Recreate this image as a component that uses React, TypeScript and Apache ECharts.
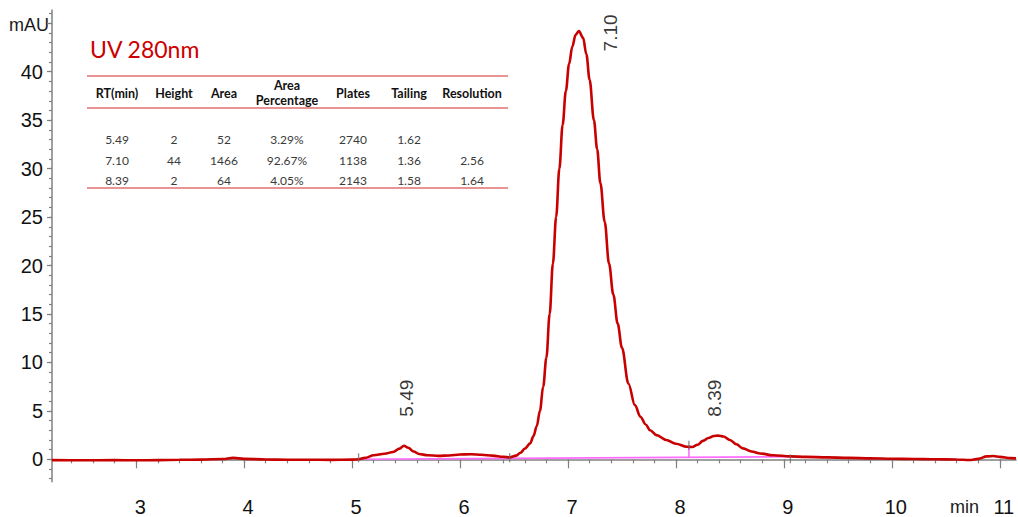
import React, { useEffect, useRef } from "react";
import * as echarts from "echarts";

// ---- Data ----
const retentionTime = [
  2.22, 2.5, 2.8, 3.0, 3.2, 3.4, 3.6, 3.8, 3.9, 4.0, 4.2, 4.4, 4.6, 4.8, 5.0, 5.06, 5.12, 5.2, 5.3, 5.38,
  5.44, 5.48, 5.52, 5.57, 5.62, 5.7, 5.8, 5.9, 6.0, 6.1, 6.2, 6.3, 6.4, 6.46, 6.52, 6.56, 6.6, 6.65, 6.68,
  6.71, 6.74, 6.77, 6.8, 6.83, 6.86, 6.89, 6.92, 6.95, 6.98, 7.01, 7.04, 7.07, 7.1, 7.14, 7.17, 7.2, 7.24,
  7.27, 7.3, 7.34, 7.38, 7.42, 7.46, 7.5, 7.56, 7.62, 7.67, 7.72, 7.76, 7.82, 7.91, 8.0, 8.1, 8.15, 8.2,
  8.25, 8.3, 8.35, 8.39, 8.44, 8.5, 8.56, 8.62, 8.7, 8.78, 8.9, 9.06, 9.2, 9.4, 9.6, 9.8, 10.0, 10.2, 10.4,
  10.6, 10.72, 10.8, 10.88, 10.94, 11.0, 11.1, 11.15,
];
const absorbance = [
  -0.08, -0.1, -0.08, -0.1, -0.08, -0.05, -0.03, 0.03, 0.15, 0.05, -0.02, -0.05, -0.04, -0.06, -0.03, 0.0,
  0.15, 0.42, 0.58, 0.75, 1.1, 1.4, 1.2, 0.8, 0.55, 0.42, 0.36, 0.4, 0.5, 0.52, 0.47, 0.38, 0.26, 0.2, 0.38,
  0.68, 1.1, 1.65, 2.4, 3.4, 5.0, 7.5, 10.5, 15, 20.2, 25, 30, 34.5, 38, 40.8, 42.6, 43.8, 44.2, 43.5, 41.8,
  39.2, 35, 32, 28.5, 24.5, 20.2, 17, 14, 11.5, 7.8, 5.6, 4.4, 3.6, 3.0, 2.5, 2.0, 1.6, 1.3, 1.27, 1.5, 1.9,
  2.2, 2.4, 2.45, 2.35, 2.0, 1.55, 1.13, 0.8, 0.6, 0.42, 0.3, 0.25, 0.2, 0.15, 0.1, 0.06, 0.04, 0.0, -0.02,
  -0.07, 0.05, 0.3, 0.34, 0.25, 0.12, 0.1,
];

// integration baseline (start / end) and drop line
const baselineTimes = [5.06, 9.06];
const baselineValues = [0.0, 0.27];
const dropTime = 8.12;
const dropValues = [0.2, 1.25];
// peak start/end markers
const markerTimes = [5.06, 6.46, 8.12, 9.06];
const markerValues = [0.15, 0.15, 1.45, 0.05];

// peak labels
const peakLabels = ["5.49", "7.10", "8.39"];

// axes
const xMajorTicks = [3, 4, 5, 6, 7, 8, 9, 10, 11];
const yMajorTicks = [0, 5, 10, 15, 20, 25, 30, 35, 40, 45];
const yTickLabels = [0, 5, 10, 15, 20, 25, 30, 35, 40];

// table
const tableHeaders = ["RT(min)", "Height", "Area", "Area\nPercentage", "Plates", "Tailing", "Resolution"];
const colRT = ["5.49", "7.10", "8.39"];
const colHeight = ["2", "44", "2"];
const colArea = ["52", "1466", "64"];
const colAreaPct = ["3.29%", "92.67%", "4.05%"];
const colPlates = ["2740", "1138", "2143"];
const colTailing = ["1.62", "1.36", "1.58"];
const colResolution = ["", "2.56", "1.64"];

// ---- Layout ----
const X_MIN = 2.22;
const X_MAX = 11.15;
const Y_MIN = -2.31;
const Y_MAX = 46.37;
const peakLabelAnchors = [
  [5.5, 4.4],
  [7.39, 42.1],
  [8.36, 4.4],
];
const tableColX = [117, 174, 224, 287, 353, 409, 472];
const tableRowY = [139, 160, 180];

const AXIS_COLOR = "#808080";
const LINE_RED = "#c80000";
const MAGENTA = "#ff6cff";
const TICK_FONT = "Liberation Sans, Arial, sans-serif";

export default function App() {
  const ref = useRef<HTMLDivElement>(null);

  useEffect(() => {
    if (!ref.current) return;
    const chart = echarts.init(ref.current, undefined, { renderer: "svg" });

    const xMinor: number[] = [];
    for (let i = 12; i <= 55; i++) xMinor.push(Math.round(i * 0.2 * 100) / 100);
    const yMinor: number[] = [];
    for (let i = -2; i <= 46; i++) yMinor.push(i);

    const columns = [colRT, colHeight, colArea, colAreaPct, colPlates, colTailing, colResolution];

    const graphics: any[] = [];
    graphics.push({
      type: "text",
      x: 90,
      y: 49,
      style: {
        text: "UV 280nm",
        fill: "#cc0000",
        font: "23px Lato, 'Open Sans', sans-serif",
        textAlign: "left",
        textVerticalAlign: "middle",
      },
    });
    [76, 108, 188].forEach((y) => {
      graphics.push({
        type: "line",
        shape: { x1: 87, y1: y, x2: 508, y2: y },
        style: { stroke: "#e07070", lineWidth: 1.6 },
      });
    });
    tableHeaders.forEach((h, i) => {
      graphics.push({
        type: "text",
        x: tableColX[i],
        y: 93,
        style: {
          text: h,
          fill: "#111",
          font: "bold 12.5px Lato, sans-serif",
          lineHeight: 15,
          textAlign: "center",
          textVerticalAlign: "middle",
        },
      });
    });
    columns.forEach((col, ci) => {
      col.forEach((v, ri) => {
        graphics.push({
          type: "text",
          x: tableColX[ci],
          y: tableRowY[ri],
          style: {
            text: v,
            fill: "#3a3a3a",
            font: "12px Lato, sans-serif",
            textAlign: "center",
            textVerticalAlign: "middle",
          },
        });
      });
    });
    graphics.push({
      type: "text",
      x: 9,
      y: 25,
      style: {
        text: "mAU",
        fill: "#1a1a1a",
        font: "18px " + TICK_FONT,
        textAlign: "left",
        textVerticalAlign: "middle",
      },
    });
    graphics.push({
      type: "text",
      x: 950,
      y: 507,
      style: {
        text: "min",
        fill: "#1a1a1a",
        font: "18px " + TICK_FONT,
        textAlign: "left",
        textVerticalAlign: "middle",
      },
    });

    const option: any = {
      animation: false,
      backgroundColor: "#ffffff",
      grid: { left: 52, right: 2, top: 10, bottom: 35.3, containLabel: false },
      xAxis: [
        {
          type: "value",
          min: X_MIN,
          max: X_MAX,
          position: "bottom",
          axisLine: { show: true, lineStyle: { color: AXIS_COLOR, width: 1.5 } },
          axisTick: { show: true, customValues: xMinor, length: 4, lineStyle: { color: AXIS_COLOR, width: 1.2 } },
          axisLabel: { show: false },
          splitLine: { show: false },
        },
        {
          type: "value",
          min: X_MIN,
          max: X_MAX,
          position: "bottom",
          axisLine: { show: false },
          axisTick: { show: true, customValues: xMajorTicks, length: 9, lineStyle: { color: AXIS_COLOR, width: 1.2 } },
          axisLabel: {
            show: true,
            customValues: xMajorTicks,
            fontSize: 20,
            fontFamily: TICK_FONT,
            color: "#111",
            margin: 15,
            padding: [0, 0, 0, 8],
          },
          splitLine: { show: false },
        },
      ],
      yAxis: [
        {
          type: "value",
          min: Y_MIN,
          max: Y_MAX,
          position: "left",
          axisLine: { show: true, lineStyle: { color: AXIS_COLOR, width: 1.5 } },
          axisTick: { show: true, customValues: yMinor, length: 3, lineStyle: { color: AXIS_COLOR, width: 1.2 } },
          axisLabel: { show: false },
          splitLine: { show: false },
        },
        {
          type: "value",
          min: Y_MIN,
          max: Y_MAX,
          position: "left",
          axisLine: { show: false },
          axisTick: { show: true, customValues: yMajorTicks, length: 5, lineStyle: { color: AXIS_COLOR, width: 1.2 } },
          axisLabel: {
            show: true,
            customValues: yTickLabels,
            fontSize: 20,
            fontFamily: TICK_FONT,
            color: "#111",
            margin: 9,
            padding: [9, 0, 0, 0],
          },
          splitLine: { show: false },
        },
      ],
      series: [
        {
          type: "line",
          name: "baseline",
          xAxisIndex: 0,
          yAxisIndex: 0,
          data: baselineTimes.map((t, i) => [t, baselineValues[i]]),
          symbol: "none",
          lineStyle: { color: MAGENTA, width: 1.6 },
          z: 2,
        },
        {
          type: "line",
          name: "drop",
          xAxisIndex: 0,
          yAxisIndex: 0,
          data: dropValues.map((v) => [dropTime, v]),
          symbol: "none",
          lineStyle: { color: MAGENTA, width: 1.6 },
          z: 2,
        },
        {
          type: "line",
          name: "UV 280nm",
          xAxisIndex: 0,
          yAxisIndex: 0,
          data: retentionTime.map((t, i) => [t, absorbance[i]]),
          symbol: "none",
          smooth: 0.35,
          smoothMonotone: "x",
          lineStyle: { color: LINE_RED, width: 2.6 },
          z: 3,
        },
        {
          type: "scatter",
          name: "markers",
          xAxisIndex: 0,
          yAxisIndex: 0,
          data: markerTimes.map((t, i) => [t, markerValues[i]]),
          symbol: "rect",
          symbolSize: [1.3, 9],
          itemStyle: { color: "#6a6a6a" },
          z: 4,
        },
        {
          type: "scatter",
          name: "peakLabels",
          xAxisIndex: 0,
          yAxisIndex: 0,
          data: peakLabels.map((p, i) => ({ value: peakLabelAnchors[i], name: p })),
          symbolSize: 0,
          itemStyle: { color: "transparent" },
          label: {
            show: true,
            formatter: (p: any) => p.name,
            position: [0, 0],
            rotate: 90,
            align: "left",
            verticalAlign: "middle",
            fontSize: 19,
            fontFamily: TICK_FONT,
            color: "#000",
            textBorderWidth: 0,
          },
          z: 5,
        },
      ],
      graphic: graphics,
    };

    chart.setOption(option);
    return () => chart.dispose();
  }, []);

  return (
    <div
      ref={ref}
      style={{ position: "fixed", left: 0, top: 0, width: 1018, height: 517, background: "#fff" }}
    />
  );
}
